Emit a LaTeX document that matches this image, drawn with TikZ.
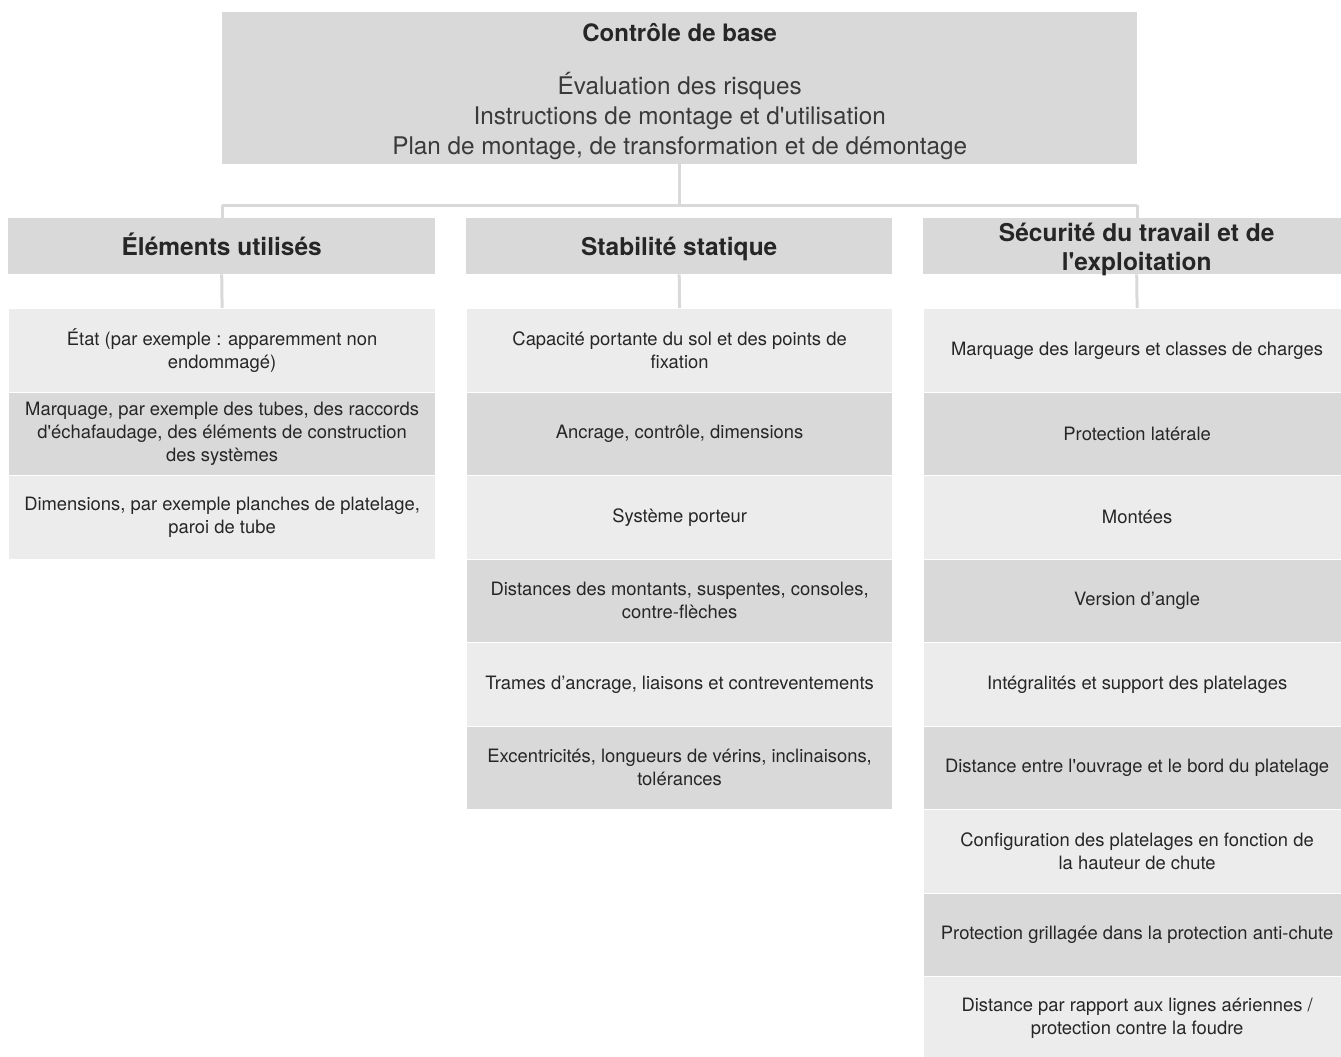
\documentclass[tikz,border=0pt]{standalone}
\usepackage{fontspec}
\setmainfont{TeX Gyre Heros}
\definecolor{boxgray}{HTML}{D9D9D9}
\definecolor{litegray}{HTML}{ECECEC}
\definecolor{txtgray}{HTML}{262626}
\definecolor{thingray}{HTML}{3A3A3A}
\newcommand{\sq}{\textquotesingle}

\begin{document}
\begin{tikzpicture}[x=1pt,y=-1pt,
    topbox/.style={fill=boxgray,anchor=north west,minimum width=915pt,minimum height=152pt,inner sep=0pt,align=center,text=thingray,font=\fontsize{24.3}{30}\selectfont},
    headtext/.style={align=center,text=txtgray,font=\fontsize{24.5}{29}\selectfont\bfseries},
    head/.style={headtext,fill=boxgray,anchor=north west,minimum height=56pt,inner sep=0pt},
    item/.style={draw=white,line width=1.2pt,anchor=north west,minimum height=83.5pt,inner sep=0pt,align=center,text=txtgray,font=\fontsize{18.4}{23}\selectfont},
    lite/.style={item,fill=litegray},
    dark/.style={item,fill=boxgray},
    conn/.style={draw=boxgray,line width=3pt}]
  \useasboundingbox (0,0) rectangle (1341,1057);

  % top box
  \node[topbox] (base) at (222,12) {\rule{0pt}{24.5pt}{\fontsize{24}{29}\selectfont\bfseries\color{txtgray}Contrôle de base}\\[23pt]
    Évaluation des risques\\
    Instructions de montage et d\sq utilisation\\
    Plan de montage, de transformation et de démontage};

  % column heads
  \node[head,minimum width=427pt,text height=23pt,text depth=5pt] (h1) at (8,218) {Éléments utilisés};
  \node[head,minimum width=426pt,text height=23pt,text depth=5pt] (h2) at (466,218) {Stabilité statique};
  \node[head,minimum width=427pt,label={[headtext,yshift=-3pt]center:Sécurité du travail et de\\l\sq exploitation}] (h3) at (923,218) {};

  % connectors
  \coordinate (jl) at (222,205);
  \coordinate (jr) at (1137,205);
  \draw[conn] (base.south) -- (base.south |- jl);
  \draw[conn] (jl) -- (jr);
  \draw[conn] (jl) -- (jl |- h1.north);
  \draw[conn] (jr) -- (jr |- h3.north);

  % column 1
  \node[lite,minimum width=427pt] (i11) at (8,308) {État (par exemple : apparemment non\\endommagé)};
  \node[dark,minimum width=427pt] (i12) at (8,391.5) {Marquage, par exemple des tubes, des raccords\\d\sq échafaudage, des éléments de construction\\des systèmes};
  \node[lite,minimum width=427pt] (i13) at (8,475) {Dimensions, par exemple planches de platelage,\\paroi de tube};

  % column 2
  \node[lite,minimum width=426pt] (i21) at (466,308) {Capacité portante du sol et des points de\\fixation};
  \node[dark,minimum width=426pt] (i22) at (466,391.5) {Ancrage, contrôle, dimensions};
  \node[lite,minimum width=426pt] (i23) at (466,475) {Système porteur};
  \node[dark,minimum width=426pt] (i24) at (466,558.5) {Distances des montants, suspentes, consoles,\\contre-flèches};
  \node[lite,minimum width=426pt] (i25) at (466,642) {Trames d’ancrage, liaisons et contreventements};
  \node[dark,minimum width=426pt] (i26) at (466,725.5) {Excentricités, longueurs de vérins, inclinaisons,\\tolérances};

  % column 3 (runs past the right edge)
  \node[lite,minimum width=427pt] (i31) at (923,308) {Marquage des largeurs et classes de charges};
  \node[dark,minimum width=427pt] (i32) at (923,391.5) {Protection latérale};
  \node[lite,minimum width=427pt] (i33) at (923,475) {Montées};
  \node[dark,minimum width=427pt] (i34) at (923,558.5) {Version d’angle};
  \node[lite,minimum width=427pt] (i35) at (923,642) {Intégralités et support des platelages};
  \node[dark,minimum width=427pt] (i36) at (923,725.5) {Distance entre l\sq ouvrage et le bord du platelage};
  \node[lite,minimum width=427pt] (i37) at (923,809) {Configuration des platelages en fonction de\\la hauteur de chute};
  \node[dark,minimum width=427pt] (i38) at (923,892.5) {Protection grillagée dans la protection anti-chute};
  \node[lite,minimum width=427pt] (i39) at (923,976) {Distance par rapport aux lignes aériennes /\\protection contre la foudre};

  % head to items
  \draw[conn] (h1.south) -- (i11.north);
  \draw[conn] (h2.south) -- (i21.north);
  \draw[conn] (h3.south) -- (i31.north);
\end{tikzpicture}
\end{document}
